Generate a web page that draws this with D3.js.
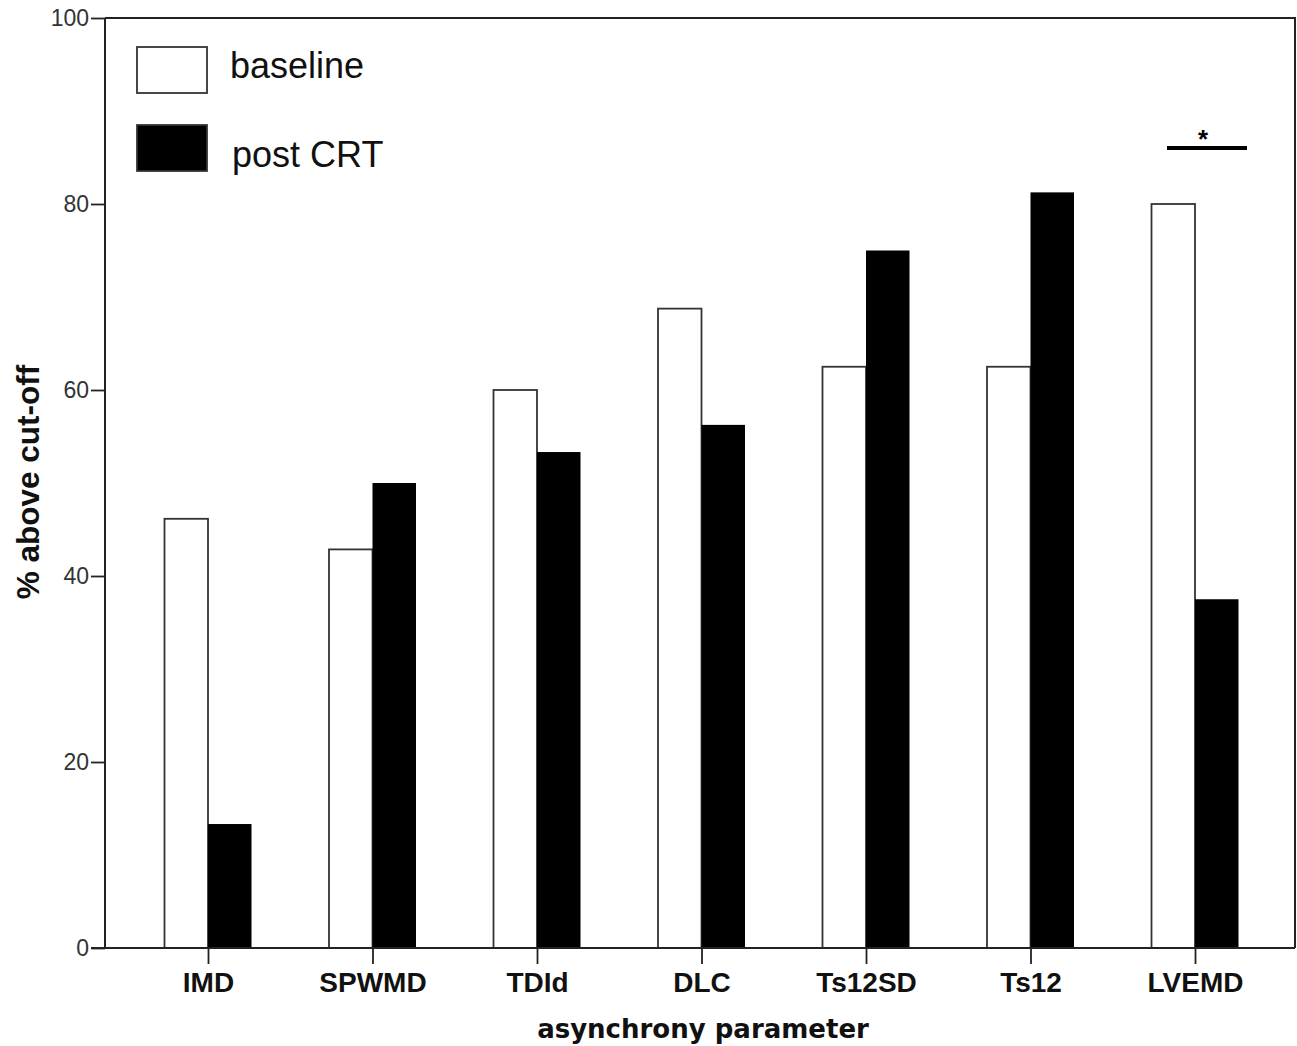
<!DOCTYPE html>
<html>
<head>
<meta charset="utf-8">
<script src="https://cdn.jsdelivr.net/npm/d3@7"></script>
<style>
body { margin: 0; background: #fff; }
svg { display: block; }
</style>
</head>
<body>
<div id="chart"></div>
<script>
const categories = ['IMD', 'SPWMD', 'TDId', 'DLC', 'Ts12SD', 'Ts12', 'LVEMD'];
const baseline = [46.15, 42.86, 60, 68.75, 62.5, 62.5, 80];
const postCRT = [13.33, 50, 53.33, 56.25, 75, 81.25, 37.5];
const yTicks = [0, 20, 40, 60, 80, 100];

(function(){
const width = 1297, height = 1046;
const mLeft = 105, mRight = 1295, mTop = 18, mBottom = 948;

const svg = d3.select('#chart').append('svg').attr('width', width).attr('height', height);

// category centres sit a little over half a step in from each side of the frame
const x = d3.scalePoint().domain(categories).range([mLeft + 103, mRight - 100]);
const y = d3.scaleLinear().domain([0, 100]).range([mBottom, mTop]);
const barW = 43.5;

// frame (top and right)
svg.append('path')
  .attr('d', `M${mLeft},${mTop}H${mRight}V${mBottom}`)
  .attr('fill', 'none').attr('stroke', '#222').attr('stroke-width', 2);

const rows = categories.map((c, i) => ({ c, b: baseline[i], p: postCRT[i] }));

svg.selectAll('rect.base').data(rows).enter().append('rect')
  .attr('class', 'base')
  .attr('x', d => x(d.c) - barW)
  .attr('y', d => y(d.b))
  .attr('width', barW)
  .attr('height', d => mBottom - y(d.b))
  .attr('fill', '#fff').attr('stroke', '#333').attr('stroke-width', 1.8);

svg.selectAll('rect.post').data(rows).enter().append('rect')
  .attr('class', 'post')
  .attr('x', d => x(d.c))
  .attr('y', d => y(d.p))
  .attr('width', barW)
  .attr('height', d => mBottom - y(d.p))
  .attr('fill', '#000');

// axes
const yAxis = svg.append('g').attr('transform', `translate(${mLeft},0)`)
  .call(d3.axisLeft(y).tickValues(yTicks).tickSize(14).tickPadding(2));
yAxis.select('.domain').remove();
yAxis.selectAll('.tick line').attr('stroke', '#222').attr('stroke-width', 1.8);
yAxis.selectAll('.tick text').attr('font-family', 'Arial, Liberation Sans, sans-serif')
  .attr('font-size', 23).attr('fill', '#333');

const xAxis = svg.append('g').attr('transform', `translate(0,${mBottom})`)
  .call(d3.axisBottom(x).tickSize(16).tickPadding(8));
xAxis.select('.domain').remove();
xAxis.selectAll('.tick line').attr('stroke', '#222').attr('stroke-width', 1.8);
xAxis.selectAll('.tick text').attr('font-family', 'Arial, Liberation Sans, sans-serif')
  .attr('font-weight', 'bold').attr('font-size', 28).attr('fill', '#111');

svg.append('line').attr('x1', mLeft).attr('x2', mLeft).attr('y1', mTop).attr('y2', mBottom)
  .attr('stroke', '#222').attr('stroke-width', 2);
svg.append('line').attr('x1', mLeft - 14).attr('x2', mRight).attr('y1', mBottom).attr('y2', mBottom)
  .attr('stroke', '#222').attr('stroke-width', 2);

// axis titles
svg.append('text').attr('x', 703).attr('y', 1038).attr('text-anchor', 'middle')
  .attr('font-family', 'DejaVu Sans, sans-serif').attr('font-weight', 'bold')
  .attr('font-size', 26).attr('fill', '#111').text('asynchrony parameter');
svg.append('text').attr('transform', 'translate(39,482) rotate(-90)').attr('text-anchor', 'middle')
  .attr('font-family', 'Arial, Liberation Sans, sans-serif').attr('font-weight', 'bold')
  .attr('font-size', 31.5).attr('fill', '#111').text('% above cut-off');

// legend
const legend = [{ label: 'baseline', fill: '#fff', yy: 47, tx: 230, ty: 78 }, { label: 'post CRT', fill: '#000', yy: 125, tx: 232, ty: 167 }];
legend.forEach(l => {
  svg.append('rect').attr('x', 137).attr('y', l.yy).attr('width', 70).attr('height', 46)
    .attr('fill', l.fill).attr('stroke', '#333').attr('stroke-width', 1.8);
  svg.append('text').attr('x', l.tx).attr('y', l.ty)
    .attr('font-family', 'Arial, Liberation Sans, sans-serif').attr('font-size', 36)
    .attr('fill', '#111').text(l.label);
});

// significance marker
const lv = x('LVEMD');
svg.append('line').attr('x1', lv - 28).attr('x2', lv + 52).attr('y1', 148).attr('y2', 148)
  .attr('stroke', '#000').attr('stroke-width', 4);
svg.append('text').attr('x', lv + 8).attr('y', 148).attr('text-anchor', 'middle')
  .attr('font-family', 'Arial, Liberation Sans, sans-serif').attr('font-weight', 'bold')
  .attr('font-size', 26).text('*');
})();
</script>
</body>
</html>
